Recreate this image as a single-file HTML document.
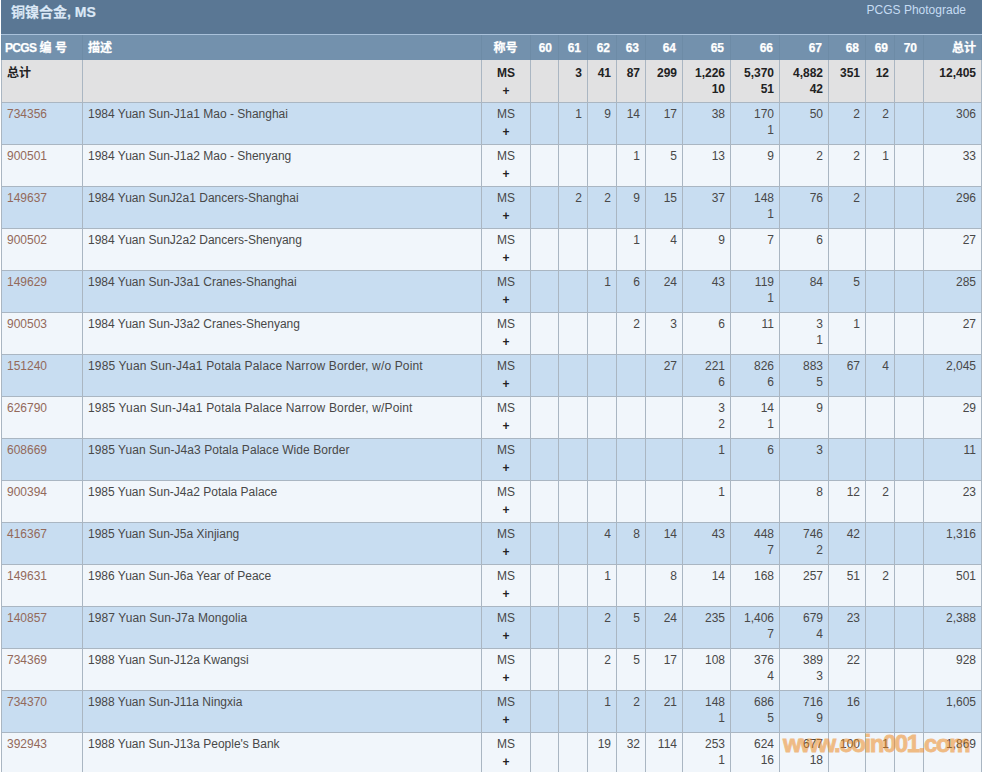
<!DOCTYPE html><html><head><meta charset="utf-8"><title>PCGS</title><style>
*{margin:0;padding:0;box-sizing:border-box}
html,body{width:983px;height:772px;overflow:hidden;background:#fff}
body{font-family:"Liberation Sans","Noto Sans CJK SC",sans-serif;font-size:12px;color:#484848;position:relative}
.box{position:absolute;left:1px;top:0;width:981px}
.title{height:34px;background:#5a7794;position:relative;border-bottom:0}
.title h1{position:absolute;left:10px;top:4px;font-size:14px;font-weight:bold;color:#dbe8f6;-webkit-text-stroke:.2px #dbe8f6;line-height:16px;white-space:nowrap}
.title a{position:absolute;right:16px;top:3px;font-size:12px;color:#c6dcf3;text-decoration:none;line-height:14px}
.sep{height:1px;background:#a9c1da}
table{border-collapse:collapse;table-layout:fixed;width:981px}
th,td{padding:0;vertical-align:top;overflow:visible;white-space:nowrap}
thead th{height:25px;background:#7391ad;color:#fff;font-weight:bold;text-align:right;padding:7px 6px 0 5px;line-height:12px;-webkit-text-stroke:.25px #fff;border-left:1px solid #6d8ba6;border-right:1px solid #6d8ba6}
thead th.l{text-align:left}
thead th:first-child{padding-left:3px}
.pc{letter-spacing:-.7px}
thead th:last-child{padding-right:5px}
thead th.c{text-align:center}
tbody td{border:1px solid #aab6c2;height:42px;text-align:right;padding:3.5px 5px 0 5px;line-height:16px}
tbody tr.tot td{background:#e1e1e2;font-weight:bold;color:#222;border-top:0;padding-top:4.5px}
tbody tr.b td{background:#c8ddf1}
tbody tr.w td{background:#f1f6fb}
td.l{text-align:left}
td.c{text-align:center}
td a{color:#93695a;text-decoration:none}
.p{font-weight:bold;position:relative;top:2px;color:#222}
.wm{position:absolute;left:783px;top:729px;font-size:24px;font-weight:bold;color:#ee8719;opacity:.52;-webkit-text-stroke:.9px #ee8719;letter-spacing:-1.4px;white-space:nowrap;line-height:30px}
</style></head><body>
<div class="box">
<div class="title"><h1>铜镍合金, MS</h1><a href="#">PCGS Photograde</a></div>
<div class="sep"></div>
<table><colgroup><col style="width:81px"><col style="width:399px"><col style="width:49px"><col style="width:28px"><col style="width:29px"><col style="width:29px"><col style="width:29px"><col style="width:37px"><col style="width:48px"><col style="width:49px"><col style="width:49px"><col style="width:37px"><col style="width:29px"><col style="width:29px"><col style="width:58px"></colgroup>
<thead><tr>
<th class="l"><span class="pc">PCGS</span> 编 号</th>
<th class="l">描述</th>
<th class="c">称号</th>
<th>60</th>
<th>61</th>
<th>62</th>
<th>63</th>
<th>64</th>
<th>65</th>
<th>66</th>
<th>67</th>
<th>68</th>
<th>69</th>
<th>70</th>
<th>总计</th>
</tr></thead><tbody>
<tr class="tot">
<td class="l">总计</td>
<td class="l"></td>
<td class="c">MS<br><span class="p">+</span></td>
<td></td>
<td>3</td>
<td>41</td>
<td>87</td>
<td>299</td>
<td>1,226<br>10</td>
<td>5,370<br>51</td>
<td>4,882<br>42</td>
<td>351</td>
<td>12</td>
<td></td>
<td>12,405</td>
</tr>
<tr class="b">
<td class="l"><a href="#">734356</a></td><td class="l">1984 Yuan Sun-J1a1 Mao - Shanghai</td><td class="c">MS<br><span class="p">+</span></td>
<td></td>
<td>1</td>
<td>9</td>
<td>14</td>
<td>17</td>
<td>38</td>
<td>170<br>1</td>
<td>50</td>
<td>2</td>
<td>2</td>
<td></td>
<td>306</td></tr>
<tr class="w">
<td class="l"><a href="#">900501</a></td><td class="l">1984 Yuan Sun-J1a2 Mao - Shenyang</td><td class="c">MS<br><span class="p">+</span></td>
<td></td>
<td></td>
<td></td>
<td>1</td>
<td>5</td>
<td>13</td>
<td>9</td>
<td>2</td>
<td>2</td>
<td>1</td>
<td></td>
<td>33</td></tr>
<tr class="b">
<td class="l"><a href="#">149637</a></td><td class="l">1984 Yuan SunJ2a1 Dancers-Shanghai</td><td class="c">MS<br><span class="p">+</span></td>
<td></td>
<td>2</td>
<td>2</td>
<td>9</td>
<td>15</td>
<td>37</td>
<td>148<br>1</td>
<td>76</td>
<td>2</td>
<td></td>
<td></td>
<td>296</td></tr>
<tr class="w">
<td class="l"><a href="#">900502</a></td><td class="l">1984 Yuan SunJ2a2 Dancers-Shenyang</td><td class="c">MS<br><span class="p">+</span></td>
<td></td>
<td></td>
<td></td>
<td>1</td>
<td>4</td>
<td>9</td>
<td>7</td>
<td>6</td>
<td></td>
<td></td>
<td></td>
<td>27</td></tr>
<tr class="b">
<td class="l"><a href="#">149629</a></td><td class="l">1984 Yuan Sun-J3a1 Cranes-Shanghai</td><td class="c">MS<br><span class="p">+</span></td>
<td></td>
<td></td>
<td>1</td>
<td>6</td>
<td>24</td>
<td>43</td>
<td>119<br>1</td>
<td>84</td>
<td>5</td>
<td></td>
<td></td>
<td>285</td></tr>
<tr class="w">
<td class="l"><a href="#">900503</a></td><td class="l">1984 Yuan Sun-J3a2 Cranes-Shenyang</td><td class="c">MS<br><span class="p">+</span></td>
<td></td>
<td></td>
<td></td>
<td>2</td>
<td>3</td>
<td>6</td>
<td>11</td>
<td>3<br>1</td>
<td>1</td>
<td></td>
<td></td>
<td>27</td></tr>
<tr class="b">
<td class="l"><a href="#">151240</a></td><td class="l" style="letter-spacing:0.155px">1985 Yuan Sun-J4a1 Potala Palace Narrow Border, w/o Point</td><td class="c">MS<br><span class="p">+</span></td>
<td></td>
<td></td>
<td></td>
<td></td>
<td>27</td>
<td>221<br>6</td>
<td>826<br>6</td>
<td>883<br>5</td>
<td>67</td>
<td>4</td>
<td></td>
<td>2,045</td></tr>
<tr class="w">
<td class="l"><a href="#">626790</a></td><td class="l" style="letter-spacing:0.157px">1985 Yuan Sun-J4a1 Potala Palace Narrow Border, w/Point</td><td class="c">MS<br><span class="p">+</span></td>
<td></td>
<td></td>
<td></td>
<td></td>
<td></td>
<td>3<br>2</td>
<td>14<br>1</td>
<td>9</td>
<td></td>
<td></td>
<td></td>
<td>29</td></tr>
<tr class="b">
<td class="l"><a href="#">608669</a></td><td class="l" style="letter-spacing:0.05px">1985 Yuan Sun-J4a3 Potala Palace Wide Border</td><td class="c">MS<br><span class="p">+</span></td>
<td></td>
<td></td>
<td></td>
<td></td>
<td></td>
<td>1</td>
<td>6</td>
<td>3</td>
<td></td>
<td></td>
<td></td>
<td>11</td></tr>
<tr class="w">
<td class="l"><a href="#">900394</a></td><td class="l">1985 Yuan Sun-J4a2 Potala Palace</td><td class="c">MS<br><span class="p">+</span></td>
<td></td>
<td></td>
<td></td>
<td></td>
<td></td>
<td>1</td>
<td></td>
<td>8</td>
<td>12</td>
<td>2</td>
<td></td>
<td>23</td></tr>
<tr class="b">
<td class="l"><a href="#">416367</a></td><td class="l">1985 Yuan Sun-J5a Xinjiang</td><td class="c">MS<br><span class="p">+</span></td>
<td></td>
<td></td>
<td>4</td>
<td>8</td>
<td>14</td>
<td>43</td>
<td>448<br>7</td>
<td>746<br>2</td>
<td>42</td>
<td></td>
<td></td>
<td>1,316</td></tr>
<tr class="w">
<td class="l"><a href="#">149631</a></td><td class="l">1986 Yuan Sun-J6a Year of Peace</td><td class="c">MS<br><span class="p">+</span></td>
<td></td>
<td></td>
<td>1</td>
<td></td>
<td>8</td>
<td>14</td>
<td>168</td>
<td>257</td>
<td>51</td>
<td>2</td>
<td></td>
<td>501</td></tr>
<tr class="b">
<td class="l"><a href="#">140857</a></td><td class="l" style="letter-spacing:0.08px">1987 Yuan Sun-J7a Mongolia</td><td class="c">MS<br><span class="p">+</span></td>
<td></td>
<td></td>
<td>2</td>
<td>5</td>
<td>24</td>
<td>235</td>
<td>1,406<br>7</td>
<td>679<br>4</td>
<td>23</td>
<td></td>
<td></td>
<td>2,388</td></tr>
<tr class="w">
<td class="l"><a href="#">734369</a></td><td class="l">1988 Yuan Sun-J12a Kwangsi</td><td class="c">MS<br><span class="p">+</span></td>
<td></td>
<td></td>
<td>2</td>
<td>5</td>
<td>17</td>
<td>108</td>
<td>376<br>4</td>
<td>389<br>3</td>
<td>22</td>
<td></td>
<td></td>
<td>928</td></tr>
<tr class="b">
<td class="l"><a href="#">734370</a></td><td class="l">1988 Yuan Sun-J11a Ningxia</td><td class="c">MS<br><span class="p">+</span></td>
<td></td>
<td></td>
<td>1</td>
<td>2</td>
<td>21</td>
<td>148<br>1</td>
<td>686<br>5</td>
<td>716<br>9</td>
<td>16</td>
<td></td>
<td></td>
<td>1,605</td></tr>
<tr class="w">
<td class="l"><a href="#">392943</a></td><td class="l">1988 Yuan Sun-J13a People&#39;s Bank</td><td class="c">MS<br><span class="p">+</span></td>
<td></td>
<td></td>
<td>19</td>
<td>32</td>
<td>114</td>
<td>253<br>1</td>
<td>624<br>16</td>
<td>677<br>18</td>
<td>100</td>
<td>1</td>
<td></td>
<td>1,869</td></tr>
</tbody></table></div>
<div class="wm">www.coin001.com</div>
</body></html>
